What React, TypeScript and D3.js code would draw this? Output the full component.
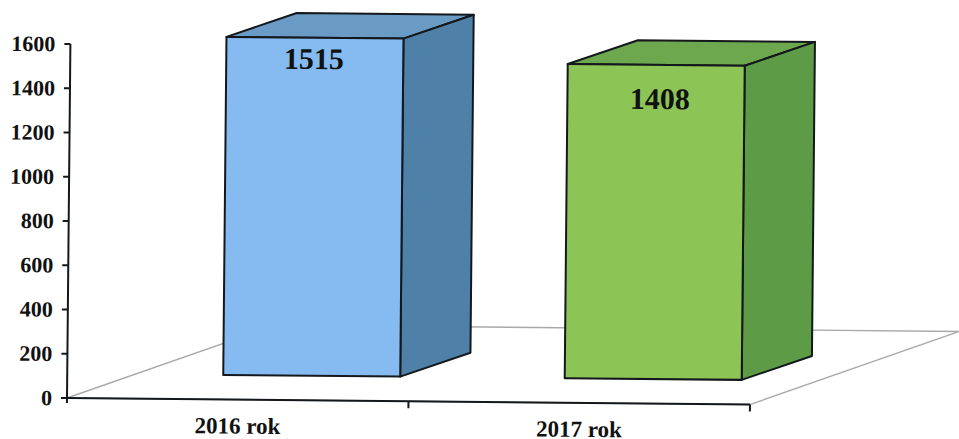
import React from "react";
import * as d3 from "d3";

const categories = ["2016 rok", "2017 rok"];
const values = [1515, 1408];
const tickValues = [0, 200, 400, 600, 800, 1000, 1200, 1400, 1600];
const frontColors = ["#85BBF1", "#8CC555"];
const sideColors = ["#4F80A8", "#5E9B47"];
const topColors = ["#6A9BC4", "#6EA84E"];

const W = 959, H = 439;
const ox = 67, oy = 398;
const axisW = 683;
const tilt = 0.55;
const font = "'Liberation Serif', 'Times New Roman', serif";

const y = d3.scaleLinear().domain([0, 1600]).range([oy, 44]);
const barH = d3.scaleLinear().domain([0, 1600]).range([0, 357]);
const x = d3.scaleBand<string>().domain(categories).range([ox, ox + axisW]);

const barW = 177;
const barShift = 156;
const barFloorY = 373.4;
const dx = 70, dy = -24.5;
const floorDx = 208, floorDy = -75;
const labelDrop = [21, 34];
const labelShift = [-1, 4];

const pts = (p: number[][]) => p.map((q) => q.join(",")).join(" ");

export default function App() {
  const ink = "#14181c";
  return (
    <svg width={W} height={H} viewBox={`0 0 ${W} ${H}`}
      style={{ position: "absolute", left: 0, top: 0, background: "#fff" }}>
      <g transform={`rotate(${tilt} ${ox} ${oy})`}>
        <polygon
          points={pts([[ox, oy], [ox + floorDx, oy + floorDy], [ox + axisW + floorDx, oy + floorDy], [ox + axisW, oy]])}
          fill="#fff" stroke="#a9a9a9" strokeWidth={1.4} />
        <line x1={ox} x2={ox} y1={y(1600)} y2={y(0) + 5} stroke={ink} strokeWidth={2} />
        <line x1={ox} x2={ox + axisW} y1={oy} y2={oy} stroke={ink} strokeWidth={2} />
        {tickValues.map((t) => (
          <g key={t}>
            <line x1={ox - 6} x2={ox} y1={y(t)} y2={y(t)} stroke={ink} strokeWidth={2} />
            <text x={ox - 15} y={y(t)} dy="0.34em" textAnchor="end" fontFamily={font}
              fontWeight="bold" fontSize={22} fill="#111">{t}</text>
          </g>
        ))}
        {categories.map((c) => x(c)! + x.bandwidth()).map((px) => (
          <line key={px} x1={px} x2={px} y1={oy} y2={oy + 7} stroke={ink} strokeWidth={2} />
        ))}
        {categories.map((c) => (
          <text key={c} x={x(c)! + x.bandwidth() / 2} y={oy + 34} textAnchor="middle" fontFamily={font}
            fontWeight="bold" fontSize={23} fill="#111">{c}</text>
        ))}
        {categories.map((c, i) => {
          const l = x(c)! + barShift, r = l + barW;
          const b = barFloorY, t = b - barH(values[i]);
          return (
            <g key={c} stroke={ink} strokeWidth={2} strokeLinejoin="round">
              <polygon points={pts([[l, t], [r, t], [r + dx, t + dy], [l + dx, t + dy]])} fill={topColors[i]} />
              <polygon points={pts([[r, t], [r + dx, t + dy], [r + dx, b + dy], [r, b]])} fill={sideColors[i]} />
              <rect x={l} y={t} width={barW} height={b - t} fill={frontColors[i]} />
              <text x={l + barW / 2 + labelShift[i]} y={t + labelDrop[i]} dy="0.34em" textAnchor="middle"
                fontFamily={font} fontWeight="bold" fontSize={30} fill="#111" stroke="none">{values[i]}</text>
            </g>
          );
        })}
      </g>
    </svg>
  );
}
